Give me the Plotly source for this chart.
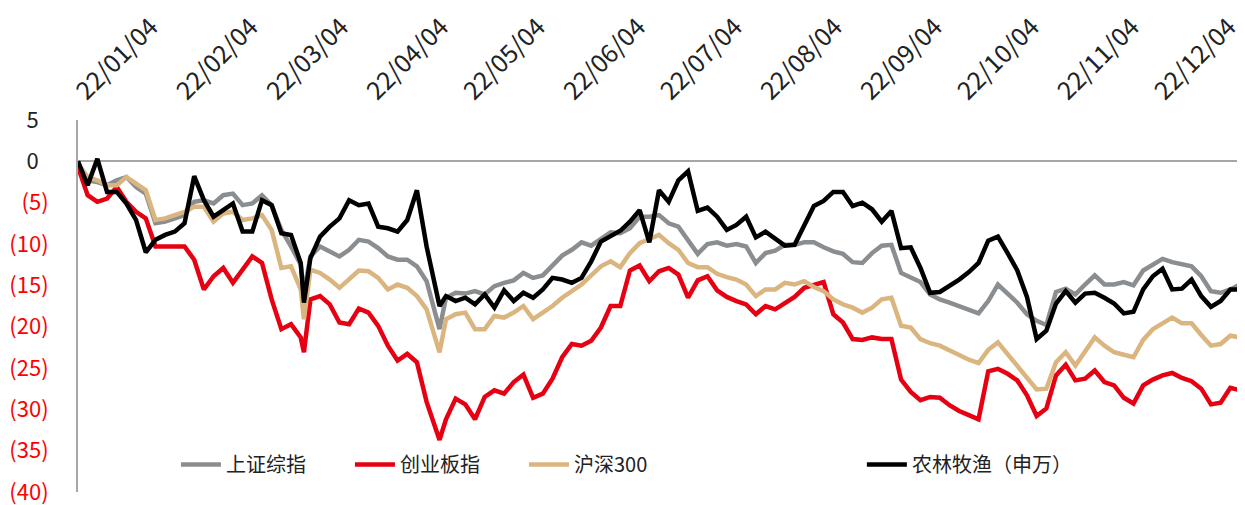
import plotly.graph_objects as go

dates = [
    "2022-01-04", "2022-01-07", "2022-01-10", "2022-01-13", "2022-01-16", "2022-01-19",
    "2022-01-22", "2022-01-25", "2022-01-28", "2022-01-31", "2022-02-03", "2022-02-06",
    "2022-02-09", "2022-02-12", "2022-02-15", "2022-02-18", "2022-02-21", "2022-02-24",
    "2022-02-27", "2022-03-02", "2022-03-05", "2022-03-08", "2022-03-11", "2022-03-14",
    "2022-03-15", "2022-03-17", "2022-03-20", "2022-03-23", "2022-03-26", "2022-03-29",
    "2022-04-01", "2022-04-04", "2022-04-07", "2022-04-10", "2022-04-13", "2022-04-16",
    "2022-04-19", "2022-04-22", "2022-04-26", "2022-04-28", "2022-05-01", "2022-05-04",
    "2022-05-07", "2022-05-10", "2022-05-13", "2022-05-16", "2022-05-19", "2022-05-22",
    "2022-05-25", "2022-05-28", "2022-05-31", "2022-06-03", "2022-06-06", "2022-06-09",
    "2022-06-12", "2022-06-15", "2022-06-18", "2022-06-21", "2022-06-24", "2022-06-27",
    "2022-06-30", "2022-07-03", "2022-07-06", "2022-07-09", "2022-07-12", "2022-07-15",
    "2022-07-18", "2022-07-21", "2022-07-24", "2022-07-27", "2022-07-30", "2022-08-02",
    "2022-08-05", "2022-08-08", "2022-08-11", "2022-08-14", "2022-08-17", "2022-08-20",
    "2022-08-23", "2022-08-26", "2022-08-29", "2022-09-01", "2022-09-04", "2022-09-07",
    "2022-09-10", "2022-09-13", "2022-09-16", "2022-09-19", "2022-09-22", "2022-09-25",
    "2022-09-28", "2022-10-01", "2022-10-04", "2022-10-07", "2022-10-10", "2022-10-13",
    "2022-10-16", "2022-10-19", "2022-10-22", "2022-10-25", "2022-10-28", "2022-10-31",
    "2022-11-03", "2022-11-06", "2022-11-09", "2022-11-12", "2022-11-15", "2022-11-18",
    "2022-11-21", "2022-11-24", "2022-11-27", "2022-11-30", "2022-12-03", "2022-12-06",
    "2022-12-09", "2022-12-12", "2022-12-15", "2022-12-18", "2022-12-21", "2022-12-24",
    "2022-12-27", "2022-12-30",
]

sse_composite = [
    -0.2, -2.3, -2.5, -2.9, -2.3, -1.9, -3.1, -3.9, -7.5, -7.3, -6.9, -6.5,
    -4.9, -4.7, -5.1, -4.1, -3.9, -5.3, -5.1, -4.1, -5.3, -8.3, -10.3, -12.5,
    -15.9, -11.5, -10.3, -10.9, -11.5, -10.7, -9.5, -9.7, -10.5, -11.5, -11.9, -11.9,
    -12.7, -14.5, -20.3, -16.5, -15.9, -16.0, -15.7, -16.1, -15.1, -14.7, -14.4, -13.5,
    -14.1, -13.8, -12.5, -11.4, -10.7, -9.8, -10.2, -9.4, -8.6, -8.7, -8.1, -6.7,
    -6.7, -6.5, -7.5, -7.9, -9.5, -11.2, -10.0, -9.8, -10.2, -10.0, -10.3, -12.3,
    -11.1, -10.8, -10.1, -10.1, -9.8, -9.8, -10.4, -10.9, -11.2, -12.2, -12.3, -11.1,
    -10.2, -10.1, -13.5, -14.1, -14.6, -16.1, -16.7, -17.1, -17.5, -17.9, -18.4, -16.9,
    -14.9, -16.0, -17.1, -18.5, -19.3, -19.8, -15.8, -15.4, -16.1, -14.9, -13.8, -14.9,
    -14.9, -14.6, -15.0, -13.2, -12.5, -11.8, -12.2, -12.5, -12.7, -13.9, -15.7, -15.9,
    -15.5, -14.9,
]

chinext = [
    -0.7, -4.1, -4.9, -4.5, -3.1, -4.9, -6.1, -6.9, -10.3, -10.3, -10.3, -10.3,
    -11.9, -15.5, -13.9, -12.9, -14.7, -13.1, -11.5, -12.3, -16.7, -20.3, -19.7, -21.3,
    -23.1, -16.7, -16.3, -17.3, -19.5, -19.7, -17.8, -18.3, -19.9, -22.3, -24.1, -23.3,
    -24.3, -29.1, -33.7, -31.2, -28.7, -29.4, -31.2, -28.5, -27.7, -28.1, -26.7, -25.8,
    -28.6, -28.1, -26.3, -23.7, -22.1, -22.3, -21.7, -20.1, -17.5, -17.5, -13.2, -12.6,
    -14.5, -13.3, -12.9, -13.7, -16.5, -14.4, -13.9, -15.6, -16.4, -16.9, -17.3, -18.5,
    -17.5, -17.9, -17.2, -16.4, -15.3, -14.9, -14.6, -18.5, -19.5, -21.5, -21.6, -21.3,
    -21.5, -21.5, -26.4, -27.9, -28.9, -28.5, -28.6, -29.5, -30.2, -30.7, -31.2, -25.4,
    -25.1, -25.7, -26.5, -28.3, -30.8, -29.9, -25.9, -24.6, -26.5, -26.3, -25.3, -26.7,
    -27.1, -28.6, -29.3, -27.1, -26.4, -25.9, -25.6, -26.2, -26.6, -27.5, -29.4, -29.2,
    -27.4, -27.7,
]

csi300 = [
    -0.3, -1.9, -2.3, -2.9, -2.9, -1.9, -2.7, -3.5, -7.1, -6.9, -6.5, -6.1,
    -5.5, -5.5, -7.3, -6.3, -6.1, -7.1, -6.9, -6.5, -8.3, -12.9, -12.7, -15.5,
    -19.1, -13.1, -13.5, -14.3, -15.3, -14.3, -13.2, -13.3, -14.1, -15.5, -14.9, -15.3,
    -16.3, -17.9, -23.1, -19.1, -18.5, -18.3, -20.3, -20.3, -18.7, -18.9, -18.3, -17.5,
    -19.1, -18.3, -17.5, -16.5, -15.7, -14.9, -13.8, -12.7, -12.1, -12.8, -11.1, -9.9,
    -9.4, -8.9, -9.9, -10.7, -12.3, -12.8, -12.8, -13.6, -14.0, -14.3, -14.9, -16.3,
    -15.5, -15.5, -14.7, -14.9, -14.5, -15.2, -15.7, -16.7, -17.3, -17.7, -18.3, -17.7,
    -16.7, -16.5, -19.9, -20.1, -21.5, -22.0, -22.3, -22.9, -23.5, -24.0, -24.4, -22.8,
    -21.9, -23.3, -24.6, -26.0, -27.6, -27.5, -24.3, -23.1, -24.7, -23.0, -21.3, -22.3,
    -23.1, -23.4, -23.7, -21.6, -20.3, -19.6, -18.9, -19.6, -19.6, -21.0, -22.3, -22.1,
    -21.1, -21.3,
]

agri_sw = [
    0.0, -2.9, 0.3, -3.7, -3.7, -5.1, -7.1, -11.0, -9.5, -8.9, -8.5, -7.5,
    -1.8, -4.7, -6.7, -5.9, -5.1, -8.5, -8.5, -4.7, -5.3, -8.7, -8.9, -12.3,
    -17.1, -11.7, -9.1, -7.9, -6.9, -4.7, -5.3, -5.1, -7.9, -8.1, -8.5, -7.1,
    -3.5, -10.3, -17.5, -16.3, -16.9, -16.5, -17.3, -16.1, -17.7, -15.6, -16.9, -15.9,
    -16.5, -15.5, -14.1, -14.3, -14.7, -14.1, -12.1, -9.7, -9.0, -8.4, -7.3, -5.9,
    -9.8, -3.5, -4.9, -2.3, -1.2, -6.0, -5.6, -6.7, -8.3, -7.7, -6.7, -9.2,
    -8.5, -9.4, -10.2, -10.1, -7.7, -5.4, -4.8, -3.7, -3.7, -5.4, -5.0, -5.8,
    -7.3, -6.0, -10.5, -10.4, -12.9, -15.9, -15.8, -15.1, -14.3, -13.4, -12.3, -9.6,
    -9.1, -11.1, -13.2, -16.4, -21.5, -20.5, -17.2, -15.7, -17.1, -16.0, -15.9, -16.5,
    -17.2, -18.4, -18.2, -15.5, -13.9, -13.0, -15.5, -15.4, -14.3, -16.3, -17.6, -16.9,
    -15.5, -15.5,
]

series_names = ["上证综指", "创业板指", "沪深300", "农林牧渔（申万）"]
series_colors = ["#8b8e91", "#e60012", "#dbb57f", "#000000"]

x_tick_vals = ["2022-01-04", "2022-02-04", "2022-03-04", "2022-04-04", "2022-05-04",
               "2022-06-04", "2022-07-04", "2022-08-04", "2022-09-04", "2022-10-04",
               "2022-11-04", "2022-12-04"]
x_tick_text = ["22/01/04", "22/02/04", "22/03/04", "22/04/04", "22/05/04", "22/06/04",
               "22/07/04", "22/08/04", "22/09/04", "22/10/04", "22/11/04", "22/12/04"]

y_tick_vals = [5, 0, -5, -10, -15, -20, -25, -30, -35, -40]


def y_label(v):
    if v < 0:
        return f"<span style='color:#ff0000'>({-v})</span>"
    return f"{v}\u00a0\u00a0"


y_tick_text = [y_label(v) for v in y_tick_vals]

FONT = "Noto Sans CJK SC"

fig = go.Figure()
all_values = [sse_composite, chinext, csi300, agri_sw]
for name, color, vals, leg in zip(series_names, series_colors, all_values,
                                  ["legend", "legend", "legend", "legend2"]):
    fig.add_trace(go.Scatter(
        x=dates, y=vals, mode="lines", name=name,
        line=dict(color=color, width=4.5),
        legend=leg,
    ))

# the page body adds an 8px offset, so the figure is sized to fit the window
fig.update_layout(
    width=1237, height=497,
    margin=dict(l=70, r=5, t=112, b=13),
    paper_bgcolor="white", plot_bgcolor="white",
    font=dict(family=FONT, size=20, color="#222222"),
    showlegend=True,
    legend=dict(
        orientation="h", x=0.0843, y=0.074, xanchor="left", yanchor="middle",
        bgcolor="rgba(0,0,0,0)", font=dict(size=20, color="#222222", family=FONT),
        entrywidth=119, itemwidth=40, tracegroupgap=0,
    ),
    legend2=dict(
        orientation="h", x=0.6746, y=0.074, xanchor="left", yanchor="middle",
        bgcolor="rgba(0,0,0,0)", font=dict(size=20, color="#222222", family=FONT),
        itemwidth=40,
    ),
    xaxis=dict(
        type="date", side="top", automargin=False,
        range=["2022-01-04", "2022-12-30"],
        tickmode="array", tickvals=x_tick_vals, ticktext=x_tick_text,
        tickangle=-45, showgrid=False, zeroline=False, showline=False,
        ticks="", ticklabelstandoff=9, ticklabeloverflow="allow",
        tickfont=dict(size=25, color="#222222", family=FONT),
    ),
    yaxis=dict(
        range=[-40, 5], automargin=False,
        tickmode="array", tickvals=y_tick_vals, ticktext=y_tick_text,
        showgrid=False, zeroline=True, zerolinecolor="#a6a6a6", zerolinewidth=2,
        showline=True, linecolor="#a6a6a6", linewidth=2, ticks="",
        ticklabelstandoff=23, ticklabeloverflow="allow",
        tickfont=dict(size=22, color="#222222", family=FONT),
    ),
)

fig.write_html("out.html")
